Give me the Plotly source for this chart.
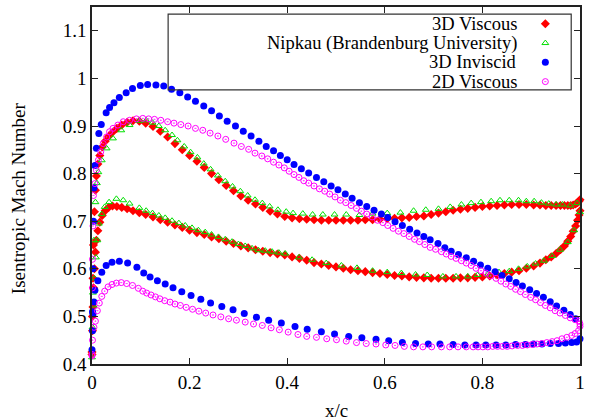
import plotly.graph_objects as go

# ---------------------------------------------------------------
# Isentropic Mach number distributions along the chord (x/c)
# ---------------------------------------------------------------

# 3D viscous: upper and lower surfaces share the same chord stations
VISC3D_X = [0.000, 0.001, 0.002, 0.003, 0.005, 0.007, 0.009, 0.012, 0.016, 0.021,
            0.027, 0.034, 0.042, 0.051, 0.061, 0.072, 0.084, 0.097,
            0.110, 0.125, 0.140, 0.155, 0.170, 0.185, 0.200, 0.215, 0.230, 0.245,
            0.260, 0.275, 0.290, 0.305, 0.320, 0.335, 0.350, 0.365, 0.380, 0.395,
            0.410, 0.425, 0.440, 0.455, 0.470, 0.485, 0.500, 0.515, 0.530, 0.545,
            0.560, 0.575, 0.590, 0.605, 0.620, 0.635, 0.650, 0.665, 0.680, 0.695,
            0.710, 0.725, 0.740, 0.755, 0.770, 0.785, 0.800, 0.815, 0.830, 0.845,
            0.860, 0.875, 0.890, 0.905,
            0.918, 0.930, 0.941, 0.951, 0.960, 0.968, 0.975, 0.981, 0.986, 0.991,
            0.995, 0.998, 1.000]
VISC3D_UPPER = [0.425, 0.500, 0.580, 0.650, 0.720, 0.765, 0.795, 0.820, 0.838, 0.856,
                0.868, 0.878, 0.887, 0.895, 0.902, 0.908, 0.911, 0.910,
                0.906, 0.899, 0.889, 0.877, 0.863, 0.850, 0.838, 0.826, 0.813, 0.800,
                0.787, 0.775, 0.764, 0.753, 0.744, 0.736, 0.729, 0.721, 0.715, 0.710,
                0.707, 0.705, 0.704, 0.703, 0.702, 0.702, 0.702, 0.702, 0.702, 0.702,
                0.703, 0.703, 0.704, 0.705, 0.706, 0.707, 0.708, 0.710, 0.711, 0.714,
                0.717, 0.720, 0.723, 0.725, 0.727, 0.729, 0.731, 0.732, 0.733, 0.734,
                0.735, 0.735, 0.735, 0.734,
                0.734, 0.733, 0.733, 0.733, 0.733, 0.733, 0.733, 0.733, 0.734, 0.736,
                0.739, 0.742, 0.745]
VISC3D_LOWER = [0.420, 0.470, 0.520, 0.560, 0.600, 0.635, 0.660, 0.680, 0.698, 0.712,
                0.722, 0.729, 0.732, 0.731, 0.729, 0.726, 0.722, 0.718,
                0.714, 0.709, 0.703, 0.698, 0.692, 0.687, 0.681, 0.676, 0.672, 0.667,
                0.663, 0.658, 0.653, 0.648, 0.644, 0.640, 0.637, 0.634, 0.631, 0.629,
                0.625, 0.622, 0.618, 0.613, 0.610, 0.607, 0.604, 0.601, 0.598, 0.596,
                0.594, 0.592, 0.590, 0.588, 0.586, 0.585, 0.583, 0.582, 0.581, 0.580,
                0.580, 0.580, 0.580, 0.581, 0.581, 0.582, 0.583, 0.585, 0.587, 0.590,
                0.593, 0.596, 0.601, 0.606,
                0.612, 0.619, 0.625, 0.632, 0.640, 0.648, 0.658, 0.668, 0.679, 0.690,
                0.702, 0.713, 0.722]

# Nipkau measurements (Brandenburg University)
NIPKAU_UPPER_X = [0.000, 0.002, 0.004, 0.007, 0.010, 0.013, 0.020, 0.030, 0.043, 0.060,
                  0.077, 0.097, 0.111, 0.124, 0.137, 0.150, 0.164, 0.175, 0.189, 0.202,
                  0.216, 0.229, 0.243, 0.258, 0.273, 0.288, 0.304, 0.319, 0.334, 0.349,
                  0.364, 0.381, 0.398, 0.412, 0.432, 0.452, 0.473, 0.497, 0.521, 0.548,
                  0.575, 0.605, 0.632, 0.659, 0.684, 0.710, 0.734, 0.757, 0.777, 0.797,
                  0.818, 0.836, 0.855, 0.874, 0.890, 0.906, 0.921, 0.936, 0.951, 0.964,
                  0.980, 0.994]
NIPKAU_UPPER = [0.414, 0.550, 0.660, 0.740, 0.780, 0.803, 0.828, 0.853, 0.874, 0.891,
                0.902, 0.911, 0.912, 0.907, 0.900, 0.891, 0.881, 0.870, 0.857, 0.845,
                0.834, 0.821, 0.809, 0.796, 0.784, 0.773, 0.763, 0.754, 0.745, 0.738,
                0.731, 0.724, 0.720, 0.717, 0.716, 0.714, 0.714, 0.714, 0.714, 0.713,
                0.716, 0.717, 0.718, 0.722, 0.724, 0.726, 0.730, 0.735, 0.738, 0.740,
                0.742, 0.744, 0.744, 0.744, 0.742, 0.742, 0.739, 0.737, 0.735, 0.735,
                0.733, 0.738]
NIPKAU_LOWER_X = [0.001, 0.003, 0.005, 0.008, 0.011, 0.014, 0.020, 0.026, 0.035, 0.050,
                  0.064, 0.077, 0.097, 0.111, 0.124, 0.137, 0.150, 0.164, 0.178, 0.191,
                  0.205, 0.218, 0.232, 0.245, 0.259, 0.273, 0.287, 0.300, 0.314, 0.328,
                  0.341, 0.355, 0.369, 0.383, 0.396, 0.424, 0.451, 0.480, 0.511, 0.543,
                  0.575, 0.605, 0.634, 0.663, 0.687, 0.719, 0.746, 0.770, 0.790, 0.811,
                  0.834, 0.855, 0.874, 0.892, 0.909, 0.926, 0.943, 0.959, 0.975, 0.988,
                  1.000]
NIPKAU_LOWER = [0.477, 0.523, 0.580, 0.624, 0.660, 0.695, 0.715, 0.730, 0.740, 0.747,
                0.744, 0.737, 0.728, 0.722, 0.717, 0.712, 0.707, 0.701, 0.696, 0.691,
                0.686, 0.681, 0.677, 0.672, 0.667, 0.662, 0.657, 0.652, 0.648, 0.643,
                0.639, 0.638, 0.636, 0.634, 0.632, 0.624, 0.619, 0.612, 0.607, 0.602,
                0.596, 0.593, 0.591, 0.588, 0.587, 0.584, 0.584, 0.584, 0.587, 0.588,
                0.593, 0.595, 0.600, 0.605, 0.611, 0.617, 0.627, 0.640, 0.656, 0.681,
                0.719]

# 3D inviscid
INVISC3D_UPPER_X = [0.000, 0.001, 0.002, 0.003, 0.004, 0.006, 0.009, 0.014, 0.019, 0.029,
                    0.036, 0.045, 0.056, 0.070, 0.083, 0.099, 0.114, 0.131, 0.147, 0.163,
                    0.180, 0.196, 0.212, 0.229, 0.245, 0.261, 0.277, 0.294, 0.310, 0.326,
                    0.342, 0.357, 0.372, 0.386, 0.400, 0.414, 0.429, 0.444, 0.460, 0.475,
                    0.490, 0.504, 0.519, 0.533, 0.548, 0.563, 0.578, 0.593, 0.606, 0.621,
                    0.636, 0.651, 0.666, 0.680, 0.693, 0.709, 0.723, 0.736, 0.751, 0.767,
                    0.782, 0.796, 0.811, 0.826, 0.840, 0.855, 0.869, 0.882, 0.897, 0.911,
                    0.925, 0.939, 0.952, 0.967, 0.980, 0.991]
INVISC3D_UPPER = [0.430, 0.510, 0.600, 0.700, 0.770, 0.817, 0.853, 0.884, 0.903, 0.928,
                  0.939, 0.949, 0.960, 0.970, 0.979, 0.985, 0.987, 0.986, 0.984, 0.977,
                  0.970, 0.961, 0.952, 0.942, 0.932, 0.921, 0.910, 0.900, 0.889, 0.879,
                  0.868, 0.857, 0.848, 0.838, 0.829, 0.819, 0.810, 0.801, 0.792, 0.783,
                  0.774, 0.766, 0.757, 0.748, 0.739, 0.731, 0.723, 0.715, 0.708, 0.699,
                  0.691, 0.683, 0.675, 0.668, 0.661, 0.653, 0.644, 0.637, 0.630, 0.623,
                  0.616, 0.608, 0.601, 0.594, 0.586, 0.579, 0.571, 0.564, 0.556, 0.548,
                  0.540, 0.531, 0.522, 0.513, 0.504, 0.495]
INVISC3D_LOWER_X = [0.001, 0.002, 0.004, 0.006, 0.012, 0.020, 0.029, 0.041, 0.056, 0.073,
                    0.092, 0.106, 0.119, 0.134, 0.150, 0.166, 0.184, 0.203, 0.223, 0.243,
                    0.266, 0.289, 0.312, 0.337, 0.362, 0.388, 0.416, 0.441, 0.470, 0.497,
                    0.526, 0.553, 0.582, 0.608, 0.636, 0.663, 0.689, 0.713, 0.740, 0.764,
                    0.787, 0.807, 0.828, 0.848, 0.868, 0.888, 0.905, 0.922, 0.939, 0.956,
                    0.970, 0.983, 0.993, 1.000]
INVISC3D_LOWER = [0.470, 0.505, 0.530, 0.555, 0.575, 0.593, 0.607, 0.614, 0.616, 0.612,
                  0.603, 0.591, 0.583, 0.575, 0.568, 0.560, 0.552, 0.544, 0.536, 0.528,
                  0.521, 0.514, 0.506, 0.498, 0.492, 0.486, 0.479, 0.473, 0.468, 0.463,
                  0.458, 0.455, 0.452, 0.449, 0.445, 0.443, 0.442, 0.442, 0.441, 0.440,
                  0.440, 0.440, 0.440, 0.440, 0.441, 0.441, 0.442, 0.442, 0.443, 0.443,
                  0.444, 0.445, 0.446, 0.453]

# 2D viscous
VISC2D_UPPER_X = [0.000, 0.001, 0.001, 0.002, 0.003, 0.006, 0.009, 0.013, 0.018, 0.023,
                  0.030, 0.036, 0.043, 0.053, 0.064, 0.077, 0.091, 0.104, 0.116, 0.128,
                  0.141, 0.155, 0.168, 0.182, 0.197, 0.212, 0.227, 0.242, 0.258, 0.274,
                  0.291, 0.306, 0.321, 0.334, 0.348, 0.360, 0.372, 0.383, 0.394, 0.404,
                  0.414, 0.424, 0.434, 0.444, 0.455, 0.466, 0.477, 0.487, 0.498, 0.509,
                  0.520, 0.531, 0.542, 0.552, 0.563, 0.574, 0.585, 0.596, 0.606, 0.617,
                  0.628, 0.639, 0.650, 0.661, 0.671, 0.682, 0.693, 0.704, 0.716, 0.726,
                  0.736, 0.746, 0.757, 0.767, 0.777, 0.787, 0.797, 0.807, 0.817, 0.828,
                  0.838, 0.848, 0.858, 0.868, 0.878, 0.888, 0.899, 0.909, 0.919, 0.929,
                  0.939, 0.949, 0.959, 0.970, 0.980, 0.990, 0.998, 1.000]
VISC2D_UPPER = [0.420, 0.560, 0.620, 0.690, 0.754, 0.779, 0.807, 0.828, 0.846, 0.863,
                0.877, 0.888, 0.895, 0.902, 0.909, 0.912, 0.915, 0.916, 0.915, 0.914,
                0.912, 0.909, 0.906, 0.903, 0.900, 0.895, 0.891, 0.885, 0.879, 0.872,
                0.864, 0.857, 0.851, 0.843, 0.837, 0.831, 0.824, 0.818, 0.812, 0.805,
                0.798, 0.792, 0.785, 0.780, 0.774, 0.768, 0.763, 0.757, 0.751, 0.744,
                0.739, 0.733, 0.727, 0.721, 0.715, 0.709, 0.702, 0.697, 0.691, 0.685,
                0.679, 0.674, 0.668, 0.662, 0.657, 0.651, 0.645, 0.641, 0.636, 0.631,
                0.626, 0.622, 0.617, 0.612, 0.607, 0.601, 0.596, 0.591, 0.585, 0.580,
                0.574, 0.568, 0.563, 0.557, 0.552, 0.546, 0.540, 0.535, 0.529, 0.523,
                0.518, 0.512, 0.507, 0.502, 0.497, 0.493, 0.490, 0.484]
VISC2D_LOWER_X = [0.000, 0.001, 0.004, 0.007, 0.011, 0.015, 0.020, 0.026, 0.033, 0.041,
                  0.050, 0.060, 0.071, 0.083, 0.095, 0.104, 0.112, 0.121, 0.130, 0.139,
                  0.149, 0.160, 0.170, 0.181, 0.193, 0.206, 0.219, 0.233, 0.248, 0.264,
                  0.280, 0.296, 0.314, 0.331, 0.349, 0.367, 0.384, 0.402, 0.422, 0.440,
                  0.460, 0.481, 0.501, 0.521, 0.542, 0.562, 0.582, 0.602, 0.621, 0.640,
                  0.659, 0.678, 0.696, 0.716, 0.733, 0.750, 0.767, 0.781, 0.791, 0.801,
                  0.811, 0.821, 0.831, 0.841, 0.851, 0.861, 0.872, 0.882, 0.892, 0.902,
                  0.912, 0.922, 0.932, 0.943, 0.953, 0.963, 0.973, 0.983, 0.990, 0.997,
                  1.000]
VISC2D_LOWER = [0.417, 0.450, 0.477, 0.490, 0.512, 0.528, 0.542, 0.553, 0.562, 0.567,
                0.570, 0.571, 0.569, 0.565, 0.559, 0.553, 0.549, 0.545, 0.541, 0.537,
                0.533, 0.530, 0.526, 0.523, 0.519, 0.515, 0.511, 0.507, 0.503, 0.499,
                0.495, 0.492, 0.488, 0.484, 0.481, 0.476, 0.472, 0.467, 0.462, 0.458,
                0.456, 0.453, 0.451, 0.448, 0.445, 0.443, 0.442, 0.440, 0.439, 0.437,
                0.436, 0.436, 0.436, 0.436, 0.436, 0.436, 0.436, 0.436, 0.436, 0.436,
                0.436, 0.437, 0.437, 0.437, 0.437, 0.438, 0.439, 0.439, 0.440, 0.441,
                0.442, 0.443, 0.445, 0.447, 0.449, 0.453, 0.456, 0.460, 0.464, 0.470,
                0.479]

SERIES_NAMES = ["3D Viscous", "Nipkau (Brandenburg University)", "3D Inviscid", "2D Viscous"]

X_TICKS = [0, 0.2, 0.4, 0.6, 0.8, 1]
X_TICK_TEXT = ["0", "0.2", "0.4", "0.6", "0.8", "1"]
Y_TICKS = [0.4, 0.5, 0.6, 0.7, 0.8, 0.9, 1.0, 1.1]
Y_TICK_TEXT = ["0.4", "0.5", "0.6", "0.7", "0.8", "0.9", "1", "1.1"]

FONT = "'Liberation Serif', 'Times New Roman', serif"
RED, GREEN, BLUE, MAGENTA = "#ff0000", "#00e000", "#0000ff", "#ff00ff"

STYLES = [
    dict(symbol="diamond", size=7, color=RED, line=dict(width=0)),
    dict(symbol="triangle-up-open", size=6, color=GREEN, line=dict(width=1, color=GREEN)),
    dict(symbol="circle", size=7, color=BLUE, line=dict(width=0)),
    dict(symbol="circle-open-dot", size=6, color=MAGENTA, line=dict(width=1, color=MAGENTA)),
]

SERIES = [
    (VISC3D_X + VISC3D_X, VISC3D_UPPER + VISC3D_LOWER),
    (NIPKAU_UPPER_X + NIPKAU_LOWER_X, NIPKAU_UPPER + NIPKAU_LOWER),
    (INVISC3D_UPPER_X + INVISC3D_LOWER_X, INVISC3D_UPPER + INVISC3D_LOWER),
    (VISC2D_UPPER_X + VISC2D_LOWER_X, VISC2D_UPPER + VISC2D_LOWER),
]

fig = go.Figure()

for name, (xs, ys), style in zip(SERIES_NAMES, SERIES, STYLES):
    fig.add_trace(go.Scatter(
        x=xs, y=ys, mode="markers", name=name, marker=style,
        cliponaxis=False, showlegend=False,
    ))

# Key box: labels right-aligned, symbols to their right (drawn on an overlay axis in plot-area units)
KEY_ROWS_Y = [0.953, 0.899, 0.845, 0.791]
KEY_TEXT_X = 0.874
KEY_SYMBOL_X = 0.929
for name, row_y, style in zip(SERIES_NAMES, KEY_ROWS_Y, STYLES):
    fig.add_trace(go.Scatter(
        x=[KEY_SYMBOL_X], y=[row_y], mode="markers", marker=style,
        xaxis="x2", yaxis="y2", showlegend=False, hoverinfo="skip",
    ))
    fig.add_annotation(
        x=KEY_TEXT_X, y=row_y, xref="paper", yref="paper", text=name,
        showarrow=False, xanchor="right", yanchor="middle",
        font=dict(family=FONT, size=18.5, color="black"),
    )
fig.add_shape(type="rect", xref="paper", yref="paper",
              x0=0.156, x1=0.982, y0=0.768, y1=0.980,
              line=dict(color="#333333", width=1.2))

axis_common = dict(
    showline=True, linecolor="#222222", linewidth=1.5, mirror="allticks",
    ticks="inside", ticklen=6, tickwidth=1, tickcolor="#222222",
    showgrid=False, zeroline=False,
    tickfont=dict(family=FONT, size=19, color="black"),
)

fig.update_layout(
    width=590, height=420,
    margin=dict(l=92, r=5, t=6, b=56),
    paper_bgcolor="white", plot_bgcolor="white",
    font=dict(family=FONT, size=19, color="black"),
    xaxis=dict(range=[0, 1], tickvals=X_TICKS, ticktext=X_TICK_TEXT, **axis_common),
    yaxis=dict(range=[0.4, 1.15], tickvals=Y_TICKS, ticktext=Y_TICK_TEXT, **axis_common),
    xaxis2=dict(range=[0, 1], overlaying="x", visible=False, anchor="y2"),
    yaxis2=dict(range=[0, 1], overlaying="y", visible=False, anchor="x2"),
    showlegend=False,
)

# Axis titles
fig.add_annotation(x=0.501, y=-0.131, xref="paper", yref="paper", text="x/c",
                   showarrow=False, xanchor="center", yanchor="middle",
                   font=dict(family=FONT, size=19, color="black"))
fig.add_annotation(x=-0.150, y=0.464, xref="paper", yref="paper",
                   text="Isentropic Mach Number", textangle=-90,
                   showarrow=False, xanchor="center", yanchor="middle",
                   font=dict(family=FONT, size=19, color="black"))

fig.write_html("out.html")
